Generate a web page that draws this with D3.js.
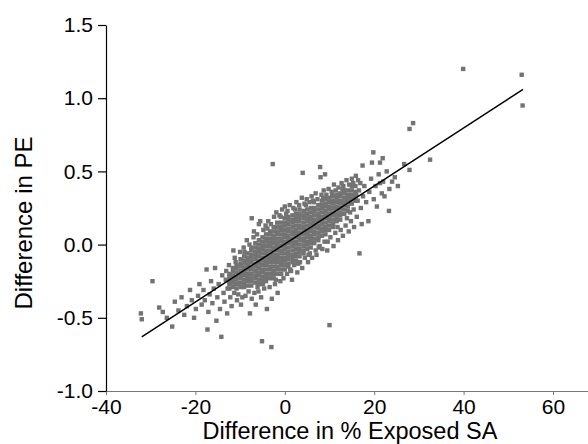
<!DOCTYPE html>
<html>
<head>
<meta charset="utf-8">
<script src="https://cdn.jsdelivr.net/npm/d3@7"></script>
<style>
  body { margin: 0; background: #fff; }
  svg text { font-family: "Liberation Sans", Arial, sans-serif; fill: #000; }
</style>
</head>
<body>
<div id="vis"></div>
<script>
// axis ticks
var xTicks = [-40, -20, 0, 20, 40, 60];
var xMinor = [-30, -10, 10, 30, 50];
var yTicks = [-1.0, -0.5, 0.0, 0.5, 1.0, 1.5];
var yMinor = [-0.75, -0.25, 0.25, 0.75, 1.25];

// fitted line end points
var fitX = [-32, 53.3];
var fitY = [-0.63, 1.06];

// dense core of the cloud, read column by column: [x, [y...]]
var coreCols = [
  [-12.4, [-0.3, -0.27, -0.25, -0.22, -0.2]],
  [-11.6, [-0.29, -0.26, -0.24, -0.21, -0.18, -0.16]],
  [-10.8, [-0.3, -0.27, -0.24, -0.22, -0.19, -0.16, -0.14]],
  [-9.9, [-0.29, -0.26, -0.23, -0.21, -0.18, -0.15, -0.13, -0.1]],
  [-9.1, [-0.29, -0.27, -0.24, -0.21, -0.19, -0.16, -0.13, -0.11, -0.08]],
  [-8.3, [-0.28, -0.25, -0.22, -0.2, -0.17, -0.14, -0.12, -0.09, -0.06]],
  [-7.5, [-0.28, -0.25, -0.23, -0.2, -0.17, -0.15, -0.12, -0.09, -0.07, -0.04, -0.02]],
  [-6.6, [-0.26, -0.23, -0.21, -0.18, -0.15, -0.13, -0.1, -0.07, -0.05, -0.02, 0.01]],
  [-5.8, [-0.27, -0.24, -0.21, -0.19, -0.16, -0.13, -0.11, -0.08, -0.05, -0.03, 0, 0.03]],
  [-5.0, [-0.25, -0.22, -0.19, -0.17, -0.14, -0.11, -0.09, -0.06, -0.03, -0.01, 0.02, 0.05]],
  [-4.2, [-0.25, -0.22, -0.2, -0.17, -0.14, -0.12, -0.09, -0.06, -0.04, -0.01, 0.02, 0.04, 0.07]],
  [-3.3, [-0.23, -0.2, -0.17, -0.15, -0.12, -0.09, -0.07, -0.04, -0.01, 0.01, 0.04, 0.07, 0.09]],
  [-2.5, [-0.23, -0.2, -0.18, -0.15, -0.12, -0.1, -0.07, -0.04, -0.02, 0.01, 0.04, 0.06, 0.09, 0.12]],
  [-1.7, [-0.2, -0.17, -0.15, -0.12, -0.09, -0.07, -0.04, -0.01, 0.01, 0.04, 0.07, 0.09, 0.12, 0.15]],
  [-0.8, [-0.2, -0.17, -0.14, -0.12, -0.09, -0.06, -0.04, -0.01, 0.02, 0.04, 0.07, 0.1, 0.12, 0.15]],
  [0.0, [-0.17, -0.14, -0.11, -0.09, -0.06, -0.03, -0.01, 0.02, 0.05, 0.07, 0.1, 0.13, 0.15, 0.18]],
  [0.8, [-0.15, -0.13, -0.1, -0.07, -0.05, -0.02, 0.01, 0.03, 0.06, 0.09, 0.11, 0.14, 0.17, 0.19]],
  [1.7, [-0.12, -0.09, -0.07, -0.04, -0.01, 0.01, 0.04, 0.07, 0.09, 0.12, 0.15, 0.17, 0.2]],
  [2.5, [-0.11, -0.08, -0.06, -0.03, 0, 0.02, 0.05, 0.08, 0.1, 0.13, 0.16, 0.18, 0.21]],
  [3.3, [-0.08, -0.05, -0.03, 0, 0.03, 0.05, 0.08, 0.11, 0.13, 0.16, 0.19, 0.21, 0.24]],
  [4.2, [-0.06, -0.04, -0.01, 0.02, 0.04, 0.07, 0.1, 0.12, 0.15, 0.18, 0.2, 0.23]],
  [5.0, [-0.03, 0, 0.02, 0.05, 0.08, 0.1, 0.13, 0.16, 0.18, 0.21, 0.24]],
  [5.8, [-0.02, 0.01, 0.03, 0.06, 0.09, 0.11, 0.14, 0.17, 0.19, 0.22, 0.25]],
  [6.6, [0.01, 0.04, 0.07, 0.09, 0.12, 0.15, 0.17, 0.2, 0.23, 0.25]],
  [7.5, [0.03, 0.05, 0.08, 0.11, 0.13, 0.16, 0.19, 0.21, 0.24, 0.27]],
  [8.3, [0.06, 0.09, 0.11, 0.14, 0.17, 0.19, 0.22, 0.25, 0.27, 0.3]],
  [9.1, [0.07, 0.1, 0.12, 0.15, 0.18, 0.2, 0.23, 0.26, 0.28, 0.31]],
  [9.9, [0.1, 0.13, 0.16, 0.18, 0.21, 0.24, 0.26, 0.29, 0.32]],
  [10.8, [0.12, 0.14, 0.17, 0.2, 0.22, 0.25, 0.28, 0.3, 0.33]],
  [11.6, [0.16, 0.18, 0.21, 0.24, 0.26, 0.29, 0.32, 0.34]],
  [12.4, [0.17, 0.2, 0.22, 0.25, 0.28, 0.3, 0.33, 0.35]],
  [13.3, [0.21, 0.24, 0.27, 0.29, 0.32, 0.35, 0.37]],
  [14.1, [0.23, 0.26, 0.29, 0.31, 0.34, 0.37]],
  [15.0, [0.28, 0.31, 0.34, 0.37, 0.4]],
  [15.8, [0.3, 0.33, 0.36, 0.4]]
];

// scattered points around the core
var fringe = [
  [-32.2, -0.47], [-32.0, -0.51], [-29.6, -0.25], [-28.1, -0.43], [-27.3, -0.46],
  [-26.4, -0.5], [-25.2, -0.56], [-24.6, -0.39], [-23.8, -0.45], [-23.1, -0.36],
  [-22.5, -0.48], [-21.9, -0.42], [-21.2, -0.31], [-20.8, -0.38], [-20.3, -0.5],
  [-19.9, -0.44], [-19.4, -0.35], [-19.1, -0.27], [-18.6, -0.41], [-18.2, -0.31],
  [-17.9, -0.38], [-17.5, -0.17], [-17.3, -0.58], [-17.1, -0.46], [-16.8, -0.34],
  [-16.5, -0.25], [-16.2, -0.4], [-15.9, -0.3], [-15.6, -0.16], [-15.3, -0.52],
  [-15.1, -0.36], [-14.8, -0.27], [-14.5, -0.44], [-14.2, -0.63], [-14.0, -0.21],
  [-13.7, -0.33], [-13.5, -0.39], [-13.2, -0.24], [-12.9, -0.47], [-12.8, -0.3],
  [-12.5, -0.14], [-12.2, -0.36], [-11.9, -0.42], [-11.5, -0.04], [-11.3, -0.33],
  [-11.0, -0.12], [-10.7, -0.38], [-10.4, -0.34], [-10.0, -0.05], [-9.8, -0.41],
  [-9.5, -0.36], [-9.2, -0.02], [-8.8, -0.35], [-8.5, 0.03], [-8.1, -0.32],
  [-7.8, -0.47], [-7.4, 0.18], [-7.4, -0.37], [-7.0, 0.05], [-6.8, -0.33],
  [-6.5, -0.41], [-6.2, 0.07], [-5.9, -0.32], [-5.8, 0.14], [-5.5, 0.16],
  [-5.3, -0.36], [-5.1, -0.66], [-4.8, 0.1], [-4.6, -0.3], [-4.3, 0.13],
  [-4.0, -0.44], [-3.7, 0.16], [-3.4, -0.29], [-3.0, -0.7], [-2.9, -0.37],
  [-2.7, 0.55], [-2.4, 0.19], [-2.2, -0.27], [-1.9, 0.22], [-1.6, -0.33],
  [-1.2, 0.2], [-1.0, -0.25], [-0.6, 0.24], [-0.3, -0.23], [0.0, 0.26],
  [0.5, -0.2], [1.2, -0.17], [1.6, -0.24], [2.1, -0.14], [2.8, -0.19],
  [3.4, -0.12], [3.9, -0.16], [4.5, -0.09], [5.2, -0.12], [5.6, -0.06],
  [6.1, -0.09], [6.9, -0.04], [7.1, -0.07], [7.8, -0.01], [8.4, -0.03],
  [8.9, 0.02], [9.5, -0.04], [10.2, 0.05], [10.9, -0.01], [10.0, -0.55],
  [11.3, 0.08], [11.9, 0.03], [12.5, 0.1], [13.0, 0.06], [13.6, 0.13],
  [14.3, 0.09], [14.8, 0.16], [15.5, 0.12], [16.1, 0.19], [16.7, -0.06],
  [17.2, 0.14], [0.6, 0.23], [1.1, 0.27], [1.9, 0.25], [2.6, 0.29],
  [3.2, 0.27], [3.8, 0.32], [4.0, 0.49], [4.4, 0.28], [4.9, 0.31],
  [5.5, 0.29], [6.0, 0.33], [6.3, 0.3], [6.9, 0.35], [7.3, 0.31],
  [7.9, 0.53], [8.0, 0.46], [8.2, 0.34], [8.7, 0.37], [9.0, 0.48],
  [9.3, 0.34], [9.8, 0.38], [10.5, 0.36], [11.0, 0.41], [11.4, 0.37],
  [12.0, 0.39], [12.7, 0.42], [13.1, 0.4], [13.8, 0.44], [14.4, 0.41],
  [15.0, 0.45], [15.3, 0.42], [15.9, 0.47], [16.4, 0.44], [17.4, 0.54],
  [16.3, 0.3], [16.6, 0.37], [17.0, 0.25], [17.5, 0.33], [17.8, 0.4],
  [18.2, 0.29], [18.7, 0.16], [18.9, 0.36], [19.3, 0.45], [19.5, 0.56],
  [19.8, 0.63], [19.9, 0.31], [20.3, 0.4], [20.6, 0.26], [21.0, 0.48],
  [21.3, 0.42], [21.3, 0.56], [21.7, 0.35], [21.9, 0.59], [22.0, 0.43],
  [22.3, 0.33], [22.8, 0.5], [23.3, 0.23], [23.4, 0.38], [24.0, 0.43],
  [24.6, 0.46], [25.3, 0.4], [26.7, 0.55], [27.9, 0.51],
  [-13.1, -0.18], [-11.2, -0.09], [-10.3, -0.27], [-9.0, -0.05], [-7.9, 0.0],
  [-6.9, 0.09], [-6.1, -0.29], [-4.9, -0.27], [-3.9, 0.11], [-3.1, 0.14],
  [-2.0, -0.24], [-0.9, 0.19], [0.3, 0.21], [1.4, -0.18], [2.3, 0.24],
  [3.0, -0.13], [4.7, 0.27], [5.3, -0.07], [6.5, 0.29], [7.6, -0.02],
  [8.6, 0.32], [9.6, 0.02], [10.6, 0.34], [11.8, 0.12], [12.9, 0.38],
  [13.9, 0.18], [14.6, 0.22], [15.4, 0.24], [16.0, 0.34], [16.9, 0.42]
];

// isolated far points
var outliers = [
  [27.9, 0.79], [28.7, 0.83], [32.5, 0.58], [39.9, 1.2], [53.0, 1.16], [53.2, 0.95]
];

var width = 588, height = 444;

var svg = d3.select("#vis").append("svg")
  .attr("width", width)
  .attr("height", height);

var x = d3.scaleLinear().domain([-40, 70]).range([106, 597.7]);
var y = d3.scaleLinear().domain([-1.0, 1.5]).range([391, 25]);

// flatten all points
var points = [];
coreCols.forEach(function(c) {
  c[1].forEach(function(v) { points.push([c[0], v]); });
});
fringe.forEach(function(p) { points.push(p); });
outliers.forEach(function(p) { points.push(p); });

var s = 4.4;
svg.append("g").selectAll("rect")
  .data(points)
  .enter().append("rect")
  .attr("x", function(d) { return x(d[0]) - s / 2; })
  .attr("y", function(d) { return y(d[1]) - s / 2; })
  .attr("width", s)
  .attr("height", s)
  .attr("fill", "#737373");

// regression line
svg.append("line")
  .attr("x1", x(fitX[0])).attr("y1", y(fitY[0]))
  .attr("x2", x(fitX[1])).attr("y2", y(fitY[1]))
  .attr("stroke", "#000")
  .attr("stroke-width", 1.5);

// x axis
var gx = svg.append("g").attr("transform", "translate(0,391)");
gx.call(d3.axisBottom(x).tickValues(xMinor).tickSize(3).tickSizeOuter(0).tickFormat(""));
gx.call(d3.axisBottom(x).tickValues(xTicks).tickSize(4).tickSizeOuter(0)
  .tickFormat(function(d) { return String(d); }));
gx.selectAll("path, line").attr("stroke", "#777");
gx.selectAll("text")
  .attr("y", 23).attr("dy", 0)
  .style("font-size", "21px");

// y axis
var gy = svg.append("g").attr("transform", "translate(106,0)");
gy.call(d3.axisLeft(y).tickValues(yMinor).tickSize(5).tickSizeOuter(0).tickFormat(""));
gy.call(d3.axisLeft(y).tickValues(yTicks).tickSize(8).tickSizeOuter(0)
  .tickFormat(function(d) { return d.toFixed(1); }));
gy.selectAll("path, line").attr("stroke", "#000").attr("stroke-width", 1.2);
gy.selectAll("text")
  .attr("x", -13)
  .style("font-size", "21px");

// titles
svg.append("text")
  .attr("x", 350).attr("y", 439)
  .attr("text-anchor", "middle")
  .style("font-size", "23.5px")
  .text("Difference in % Exposed SA");

svg.append("text")
  .attr("transform", "rotate(-90)")
  .attr("x", -223).attr("y", 32)
  .attr("text-anchor", "middle")
  .style("font-size", "24px")
  .text("Difference in PE");
</script>
</body>
</html>
